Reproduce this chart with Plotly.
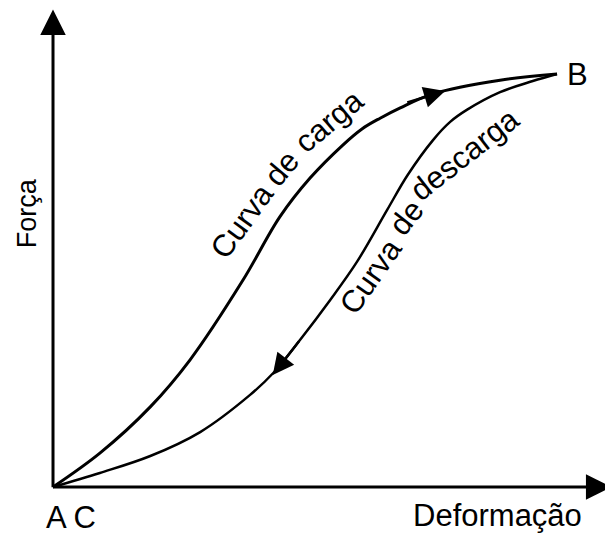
import plotly.graph_objects as go

# Data (Deformação 0-100, Força 0-100), B = (100, 100)
carga_x = [0, 9.3, 19.3, 27.2, 37.7, 45.0, 51.0, 57.5, 61.3, 64.9, 68.9, 75.4, 88.7, 100]
carga_y = [0, 8.2, 19.4, 30.8, 50.1, 65.4, 74.8, 82.8, 86.7, 89.3, 91.8, 95.2, 98.5, 100]

descarga_x = [0, 9.3, 19.3, 29.2, 39.1, 43.7, 49.0, 55.0, 60.3, 66.3, 70.4, 75.4, 78.8, 82.1, 88.7, 95.2, 100]
descarga_y = [0, 3.4, 7.5, 13.3, 22.3, 27.6, 35.6, 45.3, 54.5, 67.1, 75.6, 84.0, 88.4, 91.3, 95.6, 98.3, 100]

axis_x_label = "Deformação"
axis_y_label = "Força"
point_labels = ["A C", "B"]
curve_labels = ["Curva de carga", "Curva de descarga"]

FONT = "Liberation Sans, Arial, sans-serif"

fig = go.Figure()
fig.add_trace(go.Scatter(x=carga_x, y=carga_y, mode="lines",
                         line=dict(color="black", width=3, shape="spline", smoothing=1.0),
                         hoverinfo="skip"))
fig.add_trace(go.Scatter(x=descarga_x, y=descarga_y, mode="lines",
                         line=dict(color="black", width=2.5, shape="spline", smoothing=1.0),
                         hoverinfo="skip"))

ann = []
# axes with arrows
ann.append(dict(x=0, y=115.6, ax=0, ay=-0.4, xref="x", yref="y", axref="x", ayref="y",
                showarrow=True, arrowhead=2, arrowsize=1.7, arrowwidth=3, arrowcolor="black", text=""))
ann.append(dict(x=110.8, y=0, ax=-0.3, ay=0, xref="x", yref="y", axref="x", ayref="y",
                showarrow=True, arrowhead=2, arrowsize=1.7, arrowwidth=3, arrowcolor="black", text=""))
# arrows on curves
ann.append(dict(x=77.8, y=95.9, ax=70.0, ay=93.0, xref="x", yref="y", axref="x", ayref="y",
                showarrow=True, arrowhead=2, arrowsize=1.7, arrowwidth=2.5, arrowcolor="black", text=""))
ann.append(dict(x=43.6, y=27.1, ax=49.0, ay=35.6, xref="x", yref="y", axref="x", ayref="y",
                showarrow=True, arrowhead=2, arrowsize=1.7, arrowwidth=2.5, arrowcolor="black", text=""))

def txt(s, x, y, size=31, angle=0):
    return dict(text=s, x=x, y=y, xref="x", yref="y", showarrow=False, textangle=angle,
                xanchor="center", yanchor="middle", font=dict(family=FONT, size=size, color="black"))

ann.append(txt(axis_x_label, 88.1, -6.8, 31))
ann.append(txt(axis_y_label, -5.16, 66.3, 27, -90))
ann.append(txt(point_labels[0], 3.57, -7.3, 31))
ann.append(txt(point_labels[1], 104.0, 100.0, 31))

w1 = curve_labels[0].split(" ")
ann.append(txt(w1[0], 37.5, 64.2, 31, -54))
ann.append(txt(w1[1], 45.4, 77.0, 31, -50))
ann.append(txt(w1[2], 54.7, 88.6, 31, -40))

w2 = curve_labels[1].split(" ")
ann.append(txt(w2[0], 63.0, 51.0, 31, -55))
ann.append(txt(w2[1], 70.1, 65.3, 31, -52))
ann.append(txt(w2[2], 81.7, 80.4, 31, -38))

fig.update_layout(
    width=605, height=530,
    margin=dict(l=0, r=0, t=0, b=0),
    paper_bgcolor="white", plot_bgcolor="white",
    showlegend=False,
    xaxis=dict(range=[-8.93, 111.11], visible=False, fixedrange=True),
    yaxis=dict(range=[-12.35, 115.98], visible=False, fixedrange=True),
    annotations=ann,
)
fig.write_html("out.html")
